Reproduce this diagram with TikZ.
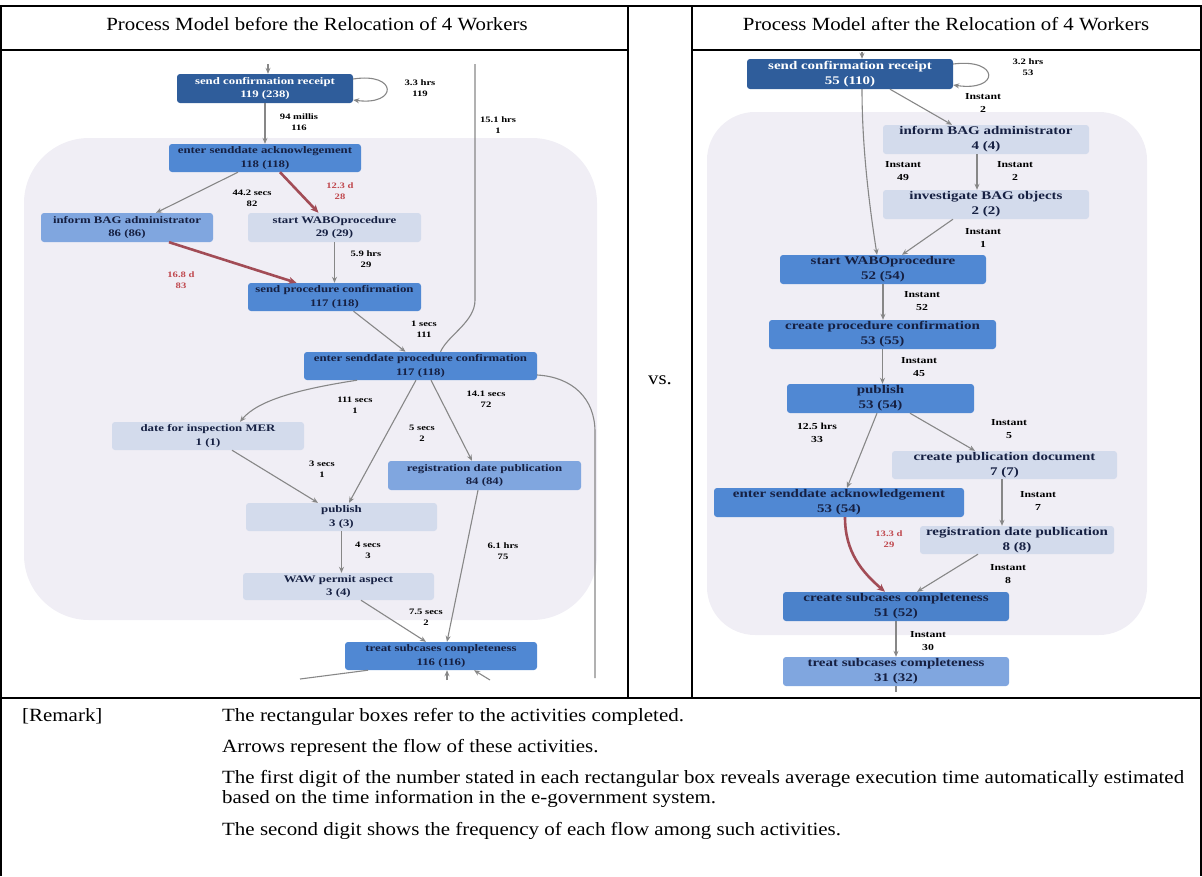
\documentclass[tikz,border=0pt]{standalone}
\usepackage{fontspec}
\setmainfont{Liberation Serif}[FakeStretch=1.28]
\newfontfamily\tablefont{Liberation Serif}[FakeStretch=1.12]
\usepackage{tikz}
\usetikzlibrary{arrows.meta, positioning}
\definecolor{regionfill}{RGB}{240, 238, 245}
\definecolor{actdark}{RGB}{47, 93, 155}
\definecolor{actmid}{RGB}{80, 136, 211}
\definecolor{actlight}{RGB}{128, 166, 223}
\definecolor{actpale}{RGB}{211, 219, 236}
\definecolor{boxtext}{RGB}{22, 32, 66}
\definecolor{flowgray}{RGB}{135, 135, 135}
\definecolor{flowred}{RGB}{162, 76, 86}
\definecolor{labelred}{RGB}{192, 72, 78}

\begin{document}
\begin{tikzpicture}[
  x=1pt, y=-1pt,
  act/.style = {rectangle, rounded corners=3pt, inner sep=0pt, align=center,
                text=boxtext, font=\fontsize{10}{13.5}\selectfont\bfseries},
  rsize/.style = {font=\fontsize{11.7}{15}\selectfont\bfseries},
  boxdark/.style  = {act, fill=actdark, text=white},
  boxmid/.style   = {act, fill=actmid},
  boxlight/.style = {act, fill=actlight},
  boxpale/.style  = {act, fill=actpale},
  flow/.style = {-{Stealth[length=6pt, width=5pt]}, line width=1.1pt, color=flowgray},
  edge/.style = {line width=1.1pt, color=flowgray},
  slow/.style = {-{Stealth[length=8pt, width=7pt]}, line width=2.6pt, color=flowred},
  lbl/.style  = {inner sep=0pt, align=center, font=\fontsize{8.3}{11}\selectfont\bfseries},
  lblR/.style = {lbl, font=\fontsize{9.2}{12.5}\selectfont\bfseries},
  lblred/.style = {lbl, text=labelred},
  head/.style = {inner sep=0pt, font=\tablefont\fontsize{18.6}{20}\selectfont},
  remark/.style = {inner sep=0pt, font=\tablefont\fontsize{18.7}{20.5}\selectfont}
]
\useasboundingbox (0,0) rectangle (1202,876);

% table
\draw[line width=1.2pt] (1,876) -- (1,6) -- (1201,6) -- (1201,876);
\draw[line width=1.2pt] (1,50) -- (628,50) (692,50) -- (1201,50);
\draw[line width=1.2pt] (628,6) -- (628,698) (692,6) -- (692,698);
\draw[line width=1.2pt] (1,698) -- (1201,698);

\node[head, anchor=base] (hBefore) at (317,30) {Process Model before the Relocation of 4 Workers};
\node[head, anchor=base] (hAfter)  at (946,30) {Process Model after the Relocation of 4 Workers};
\node[head, anchor=base] (vs)      at (660,384) {vs.};

% before
\fill[regionfill, rounded corners=65pt] (24,138) rectangle (597,620);

\node[boxdark,  minimum width=176pt, minimum height=29pt] (lSCR)  at (265,88.5)  {send confirmation receipt\\119 (238)};
\node[boxmid,   minimum width=192pt, minimum height=28pt] (lESA)  at (265,158)   {enter senddate acknowlegement\\118 (118)};
\node[boxlight, minimum width=172pt, minimum height=29pt] (lIBA)  at (127,227.5) {inform BAG administrator\\86 (86)};
\node[boxpale,  minimum width=173pt, minimum height=29pt] (lSWP)  at (334.5,227.5) {start WABOprocedure\\29 (29)};
\node[boxmid,   minimum width=173pt, minimum height=28pt] (lSPC)  at (334.5,297) {send procedure confirmation\\117 (118)};
\node[boxmid,   minimum width=233pt, minimum height=28pt] (lESPC) at (420.5,366) {enter senddate procedure confirmation\\117 (118)};
\node[boxpale,  minimum width=192pt, minimum height=28pt] (lDIM)  at (208,436)   {date for inspection MER\\1 (1)};
\node[boxlight, minimum width=193pt, minimum height=29pt] (lRDP)  at (484.5,475.5) {registration date publication\\84 (84)};
\node[boxpale,  minimum width=191pt, minimum height=28pt] (lPUB)  at (341.5,517) {publish\\3 (3)};
\node[boxpale,  minimum width=191pt, minimum height=27pt] (lWAW)  at (338.5,586.5) {WAW permit aspect\\3 (4)};
\node[boxmid,   minimum width=192pt, minimum height=28pt] (lTSC)  at (441,656)   {treat subcases completeness\\116 (116)};

\coordinate (lSCRin)    at (268,64);
\coordinate (lTopOut)   at (475,64);
\coordinate (lBendA)    at (475,300);
\coordinate (lBendB)    at (595,432);
\coordinate (lRightOut) at (595,678);
\coordinate (lOutA)     at (300,679);
\coordinate (lInB)      at (447,680);
\coordinate (lInC)      at (490,680);

\draw[flow] (lSCRin) -- (lSCRin |- lSCR.north);
\draw[flow] ([yshift=9.5pt]lSCR.east) .. controls (398,72) and (398,106) .. ([yshift=-11.5pt]lSCR.east);
\draw[flow] (lSCR) -- (lESA);
\draw[flow] ([xshift=-27pt]lESA.south) -- ([xshift=29pt]lIBA.north);
\draw[slow] ([xshift=15pt]lESA.south) -- ([xshift=-16pt]lSWP.north);
\draw[slow] ([xshift=42pt]lIBA.south) -- ([xshift=-38pt]lSPC.north);
\draw[flow] (lSWP) -- (lSPC);
\draw[flow] ([xshift=19pt]lSPC.south) -- ([xshift=-15pt]lESPC.north);
\draw[edge] ([xshift=20pt]lESPC.north) .. controls (448,335) and (475,322) .. (lBendA) -- (lTopOut);
\draw[flow] ([xshift=-63.5pt]lESPC.south) .. controls (300,389) and (258,400) .. ([xshift=32pt]lDIM.north);
\draw[flow] ([xshift=-4.5pt]lESPC.south) -- ([xshift=7.5pt]lPUB.north);
\draw[flow] ([xshift=10.5pt]lESPC.south) -- ([xshift=-12.5pt]lRDP.north);
\draw[edge] ([yshift=-9pt]lESPC.east) .. controls (572,377) and (595,398) .. (lBendB) -- (lRightOut);
\draw[flow] ([xshift=24pt]lDIM.south) -- ([xshift=-23.5pt]lPUB.north);
\draw[flow] (lPUB.south) -- (lPUB.south |- lWAW.north);
\draw[flow] ([xshift=22.5pt]lWAW.south) -- ([xshift=-15pt]lTSC.north);
\draw[flow] ([xshift=-6.5pt]lRDP.south) -- ([xshift=6pt]lTSC.north);
\draw[edge] ([xshift=-73pt]lTSC.south) -- (lOutA);
\draw[flow] (lInB) -- (lInB |- lTSC.south);
\draw[flow] (lInC) -- ([xshift=33pt]lTSC.south);

\node[lbl]    (lL1)  at (420,88)  {3.3 hrs\\119};
\node[lbl]    (lL2)  at (299,122) {94 millis\\116};
\node[lbl]    (lL3)  at (498,125) {15.1 hrs\\1};
\node[lbl]    (lL4)  at (252,198) {44.2 secs\\82};
\node[lblred] (lL5)  at (340,191) {12.3 d\\28};
\node[lblred] (lL6)  at (181,280) {16.8 d\\83};
\node[lbl]    (lL7)  at (366,259) {5.9 hrs\\29};
\node[lbl]    (lL8)  at (424,329) {1 secs\\111};
\node[lbl]    (lL9)  at (355,405) {111 secs\\1};
\node[lbl]    (lL10) at (422,433) {5 secs\\2};
\node[lbl]    (lL11) at (486,399) {14.1 secs\\72};
\node[lbl]    (lL12) at (322,469) {3 secs\\1};
\node[lbl]    (lL13) at (368,550) {4 secs\\3};
\node[lbl]    (lL14) at (503,551) {6.1 hrs\\75};
\node[lbl]    (lL15) at (426,617) {7.5 secs\\2};

% after
\fill[regionfill, rounded corners=48pt] (707,112) rectangle (1147,635);

\node[boxdark,  rsize, minimum width=206pt, minimum height=30pt] (rSCR) at (850,74)      {send confirmation receipt\\55 (110)};
\node[boxpale,  rsize, minimum width=206pt, minimum height=29pt] (rIBA) at (986,139.5)   {inform BAG administrator\\4 (4)};
\node[boxpale,  rsize, minimum width=206pt, minimum height=29pt] (rIBO) at (986,204.5)   {investigate BAG objects\\2 (2)};
\node[boxmid,   rsize, minimum width=206pt, minimum height=29pt] (rSWP) at (883,269.5)   {start WABOprocedure\\52 (54)};
\node[boxmid,   rsize, minimum width=227pt, minimum height=29pt] (rCPC) at (882.5,334.5) {create procedure confirmation\\53 (55)};
\node[boxmid,   rsize, minimum width=187pt, minimum height=29pt] (rPUB) at (880.5,398.5) {publish\\53 (54)};
\node[boxpale,  rsize, minimum width=225pt, minimum height=28pt] (rCPD) at (1004.5,465)  {create publication document\\7 (7)};
\node[boxmid,   rsize, minimum width=250pt, minimum height=29pt] (rESA) at (839,502.5)   {enter senddate acknowledgement\\53 (54)};
\node[boxpale,  rsize, minimum width=194pt, minimum height=28pt] (rRDP) at (1017,540)    {registration date publication\\8 (8)};
\node[boxmid,   rsize, minimum width=226pt, minimum height=29pt, fill=actmid!85!actdark] (rCSC) at (896,606.5) {create subcases completeness\\51 (52)};
\node[boxlight, rsize, minimum width=226pt, minimum height=29pt] (rTSC) at (896,671.5)   {treat subcases completeness\\31 (32)};

\coordinate (rSCRin) at (862,52);
\coordinate (rOut)   at (896,692);

\draw[flow] (rSCRin) -- (rSCRin |- rSCR.north);
\draw[flow] ([yshift=10pt]rSCR.east) .. controls (1000,58) and (1000,92) .. ([yshift=-11pt]rSCR.east);
\draw[flow] ([xshift=40pt]rSCR.south) -- ([xshift=-34pt]rIBA.north);
\draw[flow] ([xshift=12pt]rSCR.south) .. controls (862,150) and (870,210) .. ([xshift=-6pt]rSWP.north);
\draw[flow] ([xshift=-9pt]rIBA.south) -- ([xshift=-9pt]rIBO.north);
\draw[flow] ([xshift=-33pt]rIBO.south) -- ([xshift=19pt]rSWP.north);
\draw[flow] (rSWP.south) -- (rSWP.south |- rCPC.north);
\draw[flow] (rCPC.south) -- (rCPC.south |- rPUB.north);
\draw[flow] ([xshift=-3.5pt]rPUB.south) -- ([xshift=8pt]rESA.north);
\draw[flow] ([xshift=29.5pt]rPUB.south) -- ([xshift=-29.5pt]rCPD.north);
\draw[flow] ([xshift=-2.5pt]rCPD.south) -- ([xshift=-15pt]rRDP.north);
\draw[slow] ([xshift=6pt]rESA.south) .. controls (845,552) and (862,572) .. ([xshift=-11pt]rCSC.north);
\draw[flow] ([xshift=-39pt]rRDP.south) -- ([xshift=21pt]rCSC.north);
\draw[flow] (rCSC) -- (rTSC);
\draw[edge] (rTSC.south) -- (rOut);

\node[lbl]     (rL1)  at (1028,67) {3.2 hrs\\53};
\node[lblR]    (rL2)  at (983,103) {Instant\\2};
\node[lblR]    (rL3)  at (903,171) {Instant\\49};
\node[lblR]    (rL4)  at (1015,171) {Instant\\2};
\node[lblR]    (rL5)  at (983,238) {Instant\\1};
\node[lblR]    (rL6)  at (922,301) {Instant\\52};
\node[lblR]    (rL7)  at (919,367) {Instant\\45};
\node[lblR]    (rL8)  at (817,433) {12.5 hrs\\33};
\node[lblR]    (rL9)  at (1009,429) {Instant\\5};
\node[lblR]    (rL10) at (1038,501) {Instant\\7};
\node[lblred]  (rL11) at (889,539) {13.3 d\\29};
\node[lblR]    (rL12) at (1008,574) {Instant\\8};
\node[lblR]    (rL13) at (928,641) {Instant\\30};

% remark
\node[remark, anchor=base west] (remTag) at (22,721) {[Remark]};
\node[remark, anchor=base west] (rem1) at (222,721) {The rectangular boxes refer to the activities completed.};
\node[remark, anchor=base west] (rem2) at (222,752) {Arrows represent the flow of these activities.};
\node[remark, anchor=base west] (rem3) at (222,783) {The first digit of the number stated in each rectangular box reveals average execution time automatically estimated};
\node[remark, anchor=base west] (rem4) at (222,803) {based on the time information in the e-government system.};
\node[remark, anchor=base west] (rem5) at (222,835) {The second digit shows the frequency of each flow among such activities.};

\end{tikzpicture}
\end{document}
